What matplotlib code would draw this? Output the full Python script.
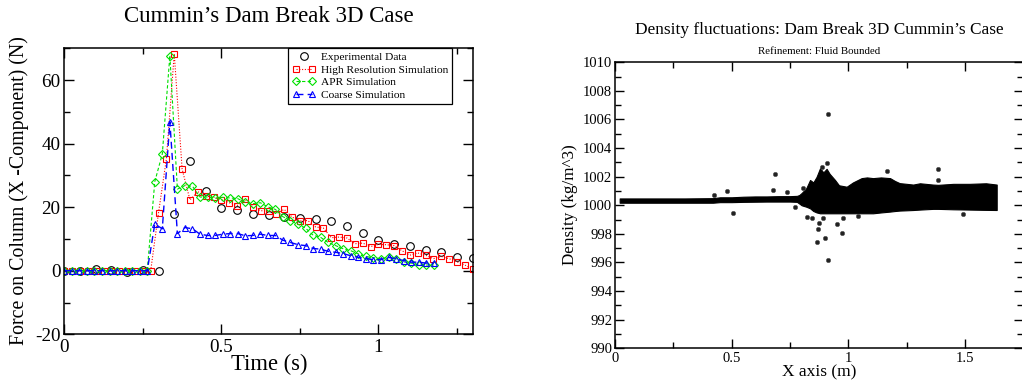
import matplotlib
matplotlib.use("Agg")
import matplotlib.pyplot as plt
from matplotlib.legend_handler import HandlerLine2D
from matplotlib.ticker import MultipleLocator

plt.rcParams['font.family'] = ['Liberation Serif', 'DejaVu Serif']

# ---------------- Left chart data ----------------
exp_t = [0.0, 0.05, 0.1, 0.15, 0.2, 0.25, 0.3, 0.35, 0.4, 0.45, 0.5, 0.55, 0.6, 0.65,
         0.7, 0.75, 0.8, 0.85, 0.9, 0.95, 1.0, 1.05, 1.1, 1.15, 1.2, 1.25, 1.3]
exp_f = [0.0, 0.0, 0.4, 0.2, -0.3, 0.2, 0.0, 18.0, 34.5, 25.0, 19.8, 19.0, 18.0, 17.5,
         17.0, 16.7, 16.2, 15.6, 14.2, 11.9, 9.8, 8.3, 7.8, 6.6, 5.9, 4.3, 4.1]

hr_t = [0.0, 0.025, 0.05, 0.075, 0.1, 0.125, 0.15, 0.175, 0.2, 0.225, 0.25, 0.275,
        0.3, 0.325, 0.35, 0.375, 0.4, 0.425, 0.45, 0.475, 0.5, 0.525, 0.55, 0.575,
        0.6, 0.625, 0.65, 0.675, 0.7, 0.725, 0.75, 0.775, 0.8, 0.825, 0.85, 0.875,
        0.9, 0.925, 0.95, 0.975, 1.0, 1.025, 1.05, 1.075, 1.1, 1.125, 1.15, 1.175,
        1.2, 1.225, 1.25, 1.275, 1.3]
hr_f = [0, 0, 0, 0, 0, 0, 0, 0, 0, 0, 0, 0,
        18.3, 35.2, 68.3, 32.0, 22.3, 24.9, 23.5, 23.2, 22.4, 21.4, 20.5, 22.5,
        20.1, 18.9, 18.8, 18.0, 19.3, 16.9, 15.7, 15.8, 13.8, 13.4, 10.4, 10.6,
        10.3, 8.5, 8.7, 7.6, 8.3, 8.2, 7.9, 6.3, 4.9, 5.6, 4.9, 3.8,
        4.5, 3.8, 2.8, 1.8, 0.5]

sim_t = [0.0, 0.024, 0.048, 0.072, 0.096, 0.12, 0.144, 0.168, 0.192, 0.216, 0.24, 0.264,
         0.288, 0.312, 0.336, 0.36, 0.384, 0.408, 0.432, 0.456, 0.48, 0.504, 0.528,
         0.552, 0.576, 0.6, 0.624, 0.648, 0.672, 0.696, 0.72, 0.744, 0.768, 0.792,
         0.816, 0.84, 0.864, 0.888, 0.912, 0.936, 0.96, 0.984, 1.008, 1.032, 1.056,
         1.08, 1.104, 1.128, 1.152, 1.176]
apr_f = [0, 0, 0, 0, 0, 0, 0, 0, 0, 0, 0, 0,
         28.0, 36.8, 67.7, 25.7, 26.8, 26.6, 23.2, 23.2, 22.8, 23.1, 22.9,
         22.7, 21.5, 21.1, 21.4, 20.1, 19.3, 17.0, 15.8, 14.6, 13.4, 11.2,
         10.5, 8.9, 7.9, 6.9, 6.3, 5.3, 4.5, 4.1, 3.8, 4.3, 3.8,
         2.8, 2.4, 1.9, 1.8, 1.8]
coarse_f = [0, 0, 0, 0, 0, 0, 0, 0, 0, 0, 0, 0,
            14.7, 13.2, 46.9, 11.7, 13.6, 13.2, 11.5, 11.1, 11.1, 11.5, 11.7,
            11.7, 11.0, 11.1, 11.5, 11.1, 11.1, 9.6, 8.9, 8.2, 7.9, 7.0,
            6.8, 6.1, 5.8, 5.4, 4.7, 4.2, 3.8, 3.5, 3.5, 4.2, 3.8,
            3.2, 2.7, 2.7, 2.4, 2.4]

# ---------------- Right chart data ----------------
band_x = [0.02, 0.10, 0.20, 0.30, 0.42, 0.45, 0.50, 0.55, 0.60, 0.65, 0.70, 0.75,
          0.78, 0.79, 0.80, 0.82, 0.836, 0.85, 0.864, 0.879, 0.893, 0.907, 0.92,
          0.943, 0.96, 0.993, 1.02, 1.057, 1.08, 1.106, 1.14, 1.179, 1.20, 1.22,
          1.25, 1.278, 1.307, 1.363, 1.385, 1.45, 1.52, 1.59, 1.636]
band_hi = [1000.48, 1000.48, 1000.48, 1000.48, 1000.5, 1000.56, 1000.56, 1000.6,
           1000.62, 1000.62, 1000.64, 1000.64, 1000.66, 1000.72, 1000.86, 1001.2,
           1001.77, 1001.6, 1001.99, 1002.6, 1002.3, 1002.55, 1002.2, 1001.77,
           1001.4, 1001.3, 1001.6, 1001.9, 1001.95, 1001.9, 1001.95, 1001.9, 1001.7,
           1001.55, 1001.5, 1001.45, 1001.54, 1001.45, 1001.43, 1001.5, 1001.5,
           1001.54, 1001.45]
band_lo = [1000.18, 1000.18, 1000.18, 1000.18, 1000.18, 1000.22, 1000.22, 1000.24,
           1000.25, 1000.26, 1000.26, 1000.26, 1000.24, 1000.12, 1000.0, 999.9,
           999.79, 999.6, 999.5, 999.44, 999.44, 999.44, 999.44, 999.44, 999.44,
           999.44, 999.44, 999.44, 999.44, 999.44, 999.5, 999.56, 999.6, 999.63,
           999.65, 999.67, 999.7, 999.75, 999.75, 999.72, 999.7, 999.68, 999.67]

out_x = [0.914, 0.914, 0.867, 0.900, 0.974, 0.950, 0.871, 0.876, 0.822, 0.843,
         0.979, 0.893, 0.772, 1.043, 0.739, 0.907, 0.886, 1.165, 1.386, 1.386,
         0.686, 0.504, 0.479, 0.424, 0.679, 1.493, 0.807]
out_y = [1006.4, 996.17, 997.45, 997.73, 998.04, 998.69, 998.32, 998.78, 999.16, 999.1,
         999.1, 999.1, 999.87, 999.28, 1000.9, 1002.95, 1002.67, 1002.4, 1002.55, 1001.77,
         1002.2, 999.48, 1001.02, 1000.7, 1001.1, 999.39, 1001.19]

W, H = 1022, 385
fig = plt.figure(figsize=(W / 100, H / 100), dpi=100)

def fx(px):
    return px / W

def fy(py):
    return 1 - py / H

# ---------------- Left axes ----------------
ax = fig.add_axes([fx(64.3), fy(334.3), (472.7 - 64.3) / W, (334.3 - 48.3) / H])
ax.plot(exp_t, exp_f, linestyle='none', marker='o', markersize=5.5, markerfacecolor='none',
        markeredgecolor='black', markeredgewidth=0.8, label='Experimental Data')
ax.plot(hr_t, hr_f, linestyle=(0, (1, 1.5)), linewidth=0.8, color='#ff0000', marker='s',
        markersize=4.5, markerfacecolor='none', markeredgecolor='#ff0000',
        markeredgewidth=0.8, label='High Resolution Simulation')
ax.plot(sim_t, apr_f, linestyle=(0, (3, 2)), linewidth=0.8, color='#00e000', marker='D',
        markersize=3.8, markerfacecolor='none', markeredgecolor='#00e000',
        markeredgewidth=0.8, label='APR Simulation')
ax.plot(sim_t, coarse_f, linestyle=(0, (5, 3)), linewidth=1.0, color='#0000ff', marker='^',
        markersize=5, markerfacecolor='none', markeredgecolor='#0000ff',
        markeredgewidth=0.8, label='Coarse Simulation')

ax.set_xlim(0, 1.3)
ax.set_ylim(-20, 70)
ax.xaxis.set_minor_locator(MultipleLocator(0.25))
ax.yaxis.set_minor_locator(MultipleLocator(10))
ax.set_xticks([0, 0.5, 1])
ax.set_xticklabels(['0', '0.5', '1'])
ax.set_yticks([-20, 0, 20, 40, 60])
ax.set_yticklabels(['-20', '0', '20', '40', '60'])
ax.tick_params(which='both', direction='in', top=True, right=True, width=1.0,
               labelsize=13.8, color='black')
ax.tick_params(which='major', length=7)
ax.tick_params(which='minor', length=4.5)
ax.tick_params(axis='y', pad=2.8)
ax.tick_params(axis='x', pad=3.5)
for s in ax.spines.values():
    s.set_linewidth(1.1)

leg = ax.legend(loc='upper right', bbox_to_anchor=((452 - 64.3) / (472.7 - 64.3), 1.0),
                borderaxespad=0, fontsize=8.2, frameon=True, fancybox=False,
                edgecolor='black', framealpha=1, handlelength=2.0, handletextpad=0.5,
                labelspacing=0.22, borderpad=0.35,
                handler_map={ax.lines[0]: HandlerLine2D(numpoints=1)}, numpoints=2)
leg.get_frame().set_linewidth(0.9)

fig.text(fx(268.5), fy(17), 'Cummin\u2019s Dam Break 3D Case', ha='center', va='center',
         fontsize=16.5)
fig.text(fx(269), fy(364), 'Time (s)', ha='center', va='center', fontsize=16.3)
fig.text(fx(19), fy(191), 'Force on Column (X -Component) (N)', ha='center', va='center',
         fontsize=14.3, rotation=90)

# ---------------- Right axes ----------------
ax2 = fig.add_axes([fx(615), fy(348.3), (1023.3 - 615) / W, (348.3 - 62.3) / H])
ax2.fill_between(band_x, band_lo, band_hi, color='black', linewidth=0.8,
                 edgecolor='black')
ax2.scatter(out_x, out_y, s=10, color='#222222', edgecolors='#555555', linewidths=0.4,
            zorder=3)
ax2.set_xlim(0, 1.75)
ax2.set_ylim(990, 1010)
ax2.set_xticks([0, 0.5, 1, 1.5])
ax2.set_xticklabels(['0', '0.5', '1', '1.5'])
ax2.xaxis.set_minor_locator(MultipleLocator(0.25))
ax2.set_yticks(list(range(990, 1011, 2)))
ax2.set_yticklabels([str(v) for v in range(990, 1011, 2)])
ax2.yaxis.set_minor_locator(MultipleLocator(1))
ax2.tick_params(which='both', direction='in', top=True, right=True, width=1.0,
                labelsize=10.5, color='black')
ax2.tick_params(which='major', length=6.5)
ax2.tick_params(which='minor', length=4)
ax2.tick_params(axis='y', pad=2)
ax2.tick_params(axis='x', pad=3)
for s in ax2.spines.values():
    s.set_linewidth(1.1)

fig.text(fx(819), fy(29.5), 'Density fluctuations: Dam Break 3D Cummin\u2019s Case',
         ha='center', va='center', fontsize=12.4)
fig.text(fx(819), fy(51), 'Refinement: Fluid Bounded', ha='center', va='center',
         fontsize=7.8)
fig.text(fx(819), fy(372), 'X axis (m)', ha='center', va='center', fontsize=12.5)
fig.text(fx(569.5), fy(205), 'Density (kg/m^3)', ha='center', va='center', fontsize=12.3,
         rotation=90)

fig.savefig('out.png', dpi=100)
